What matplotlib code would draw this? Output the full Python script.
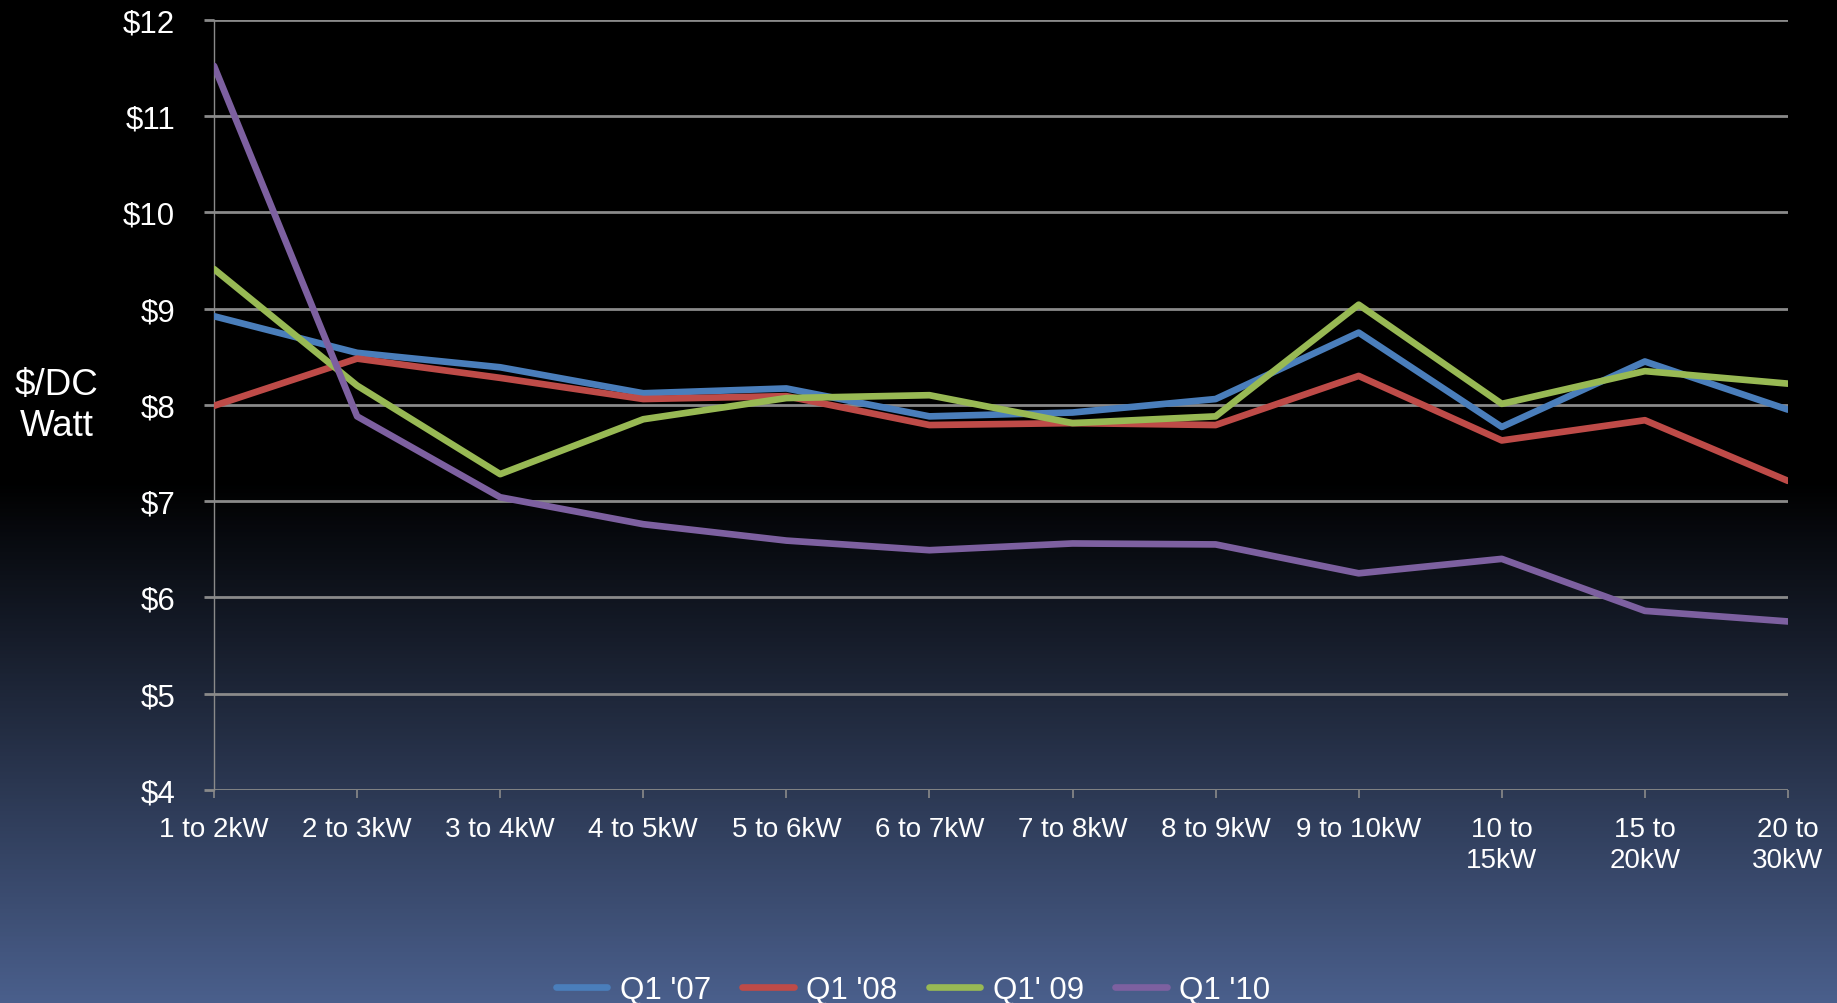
import numpy as np
import matplotlib.pyplot as plt
from matplotlib.colors import LinearSegmentedColormap

plt.rcParams['font.family'] = ['Liberation Sans', 'DejaVu Sans']

# System size buckets and installed cost ($/DC Watt) per quarter
sizes = ["1 to 2kW", "2 to 3kW", "3 to 4kW", "4 to 5kW", "5 to 6kW", "6 to 7kW",
         "7 to 8kW", "8 to 9kW", "9 to 10kW", "10 to\n15kW", "15 to\n20kW", "20 to\n30kW"]
q1_07 = [8.92, 8.54, 8.39, 8.12, 8.17, 7.88, 7.92, 8.06, 8.75, 7.77, 8.45, 7.95]
q1_08 = [7.99, 8.48, 8.28, 8.06, 8.09, 7.79, 7.81, 7.79, 8.30, 7.63, 7.84, 7.21]
q1_09 = [9.41, 8.20, 7.28, 7.85, 8.07, 8.10, 7.81, 7.88, 9.04, 8.01, 8.35, 8.22]
q1_10 = [11.52, 7.88, 7.04, 6.76, 6.59, 6.49, 6.56, 6.55, 6.25, 6.40, 5.86, 5.75]
series_names = ["Q1 '07", "Q1 '08", "Q1' 09", "Q1 '10"]
colors = ["#4a7ebb", "#be4b48", "#98b954", "#7d60a0"]

fig = plt.figure(figsize=(18.37, 10.04), dpi=100)

# background: black on top fading to slate blue at the bottom
bg = fig.add_axes([0, 0, 1, 1], zorder=-10)
cmap = LinearSegmentedColormap.from_list(
    "bg", [(0.0, "#000000"), (0.48, "#000000"), (0.63, "#151b28"), (1.0, "#4a5f8c")])
grad = np.linspace(0, 1, 512).reshape(-1, 1)
bg.imshow(grad, aspect="auto", cmap=cmap, extent=[0, 1, 1, 0])
bg.set_axis_off()

ax = fig.add_axes([0.1165, 0.2122, 0.8568, 0.7672])
ax.set_facecolor("none")

x = np.arange(len(sizes))
for vals, name, c in zip([q1_07, q1_08, q1_09, q1_10], series_names, colors):
    ax.plot(x, vals, color=c, linewidth=4.8, label=name, solid_capstyle="round", zorder=3)

ax.set_xlim(0, len(sizes) - 1)
ax.set_ylim(4, 12)
ax.set_yticks(range(4, 13))
ax.set_yticklabels([f"${v}" for v in range(4, 13)])
ax.set_xticks(x)
ax.set_xticklabels(sizes, linespacing=1.25)

ax.grid(axis="y", color="#8a8a8a", linewidth=2, zorder=1)
ax.grid(axis="x", visible=False)
for s in ["top", "right", "bottom"]:
    ax.spines[s].set_visible(False)
ax.spines["left"].set_color("#8a8a8a")
ax.spines["left"].set_linewidth(1)

ax.tick_params(axis="y", colors="white", labelsize=22.5, length=7, width=2, pad=21)
ax.tick_params(axis="y", color="#8a8a8a")
ax.tick_params(axis="x", colors="white", labelsize=20, length=6, width=1.2, pad=13)
ax.tick_params(axis="x", color="#8a8a8a")

ax.set_ylabel("$/DC\nWatt", color="white", fontsize=26.5, rotation=0,
              ha="center", va="center", labelpad=0)
ax.yaxis.set_label_coords(-0.1, 0.5)

leg = fig.legend(loc="lower center", bbox_to_anchor=(0.497, -0.03), ncol=4, frameon=False,
                 fontsize=22.5, handlelength=1.65, handletextpad=0.4, columnspacing=1.0)
for t in leg.get_texts():
    t.set_color("white")

fig.savefig("out.png", dpi=100)
